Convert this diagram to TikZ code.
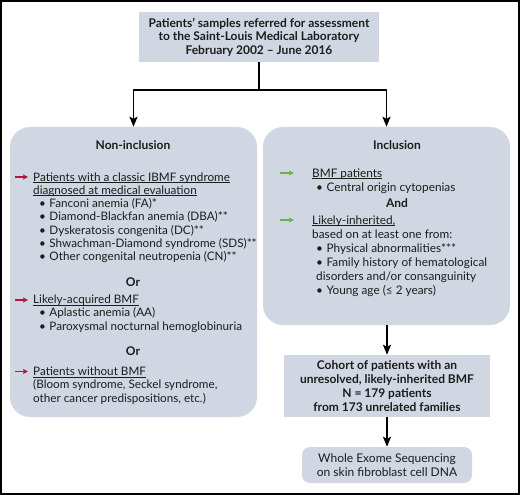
\documentclass[tikz,border=0pt]{standalone}
\usepackage{fontspec}
\setmainfont{Lato}
\usetikzlibrary{arrows.meta}
\definecolor{boxfill}{RGB}{208,215,226}
\definecolor{redarr}{RGB}{178,24,60}
\definecolor{greenarr}{RGB}{112,176,78}
\definecolor{txt}{RGB}{28,28,28}
\newcommand\myul[1]{\setbox0\hbox{#1}\rlap{\rule[-1.7pt]{\wd0}{0.6pt}}\box0}
\newcommand\lbul{\hspace*{6pt}\textbullet\hspace{3.5pt}}
\newcommand\rbul{\hspace*{4pt}\textbullet\hspace{3.5pt}}
\begin{document}
\begin{tikzpicture}[x=1pt,y=-1pt,
  every node/.style={text=txt},
  sqbox/.style={fill=boxfill, draw=none, inner sep=0pt, align=center},
  rbox/.style={fill=boxfill, draw=none, inner sep=0pt, rounded corners=20pt},
  headtxt/.style={font=\fontsize{12}{14}\selectfont\bfseries, inner sep=0pt},
  leftlist/.style={anchor=base west, align=left, inner sep=0pt, font=\fontsize{11.7}{13.3}\selectfont},
  rightlist/.style={anchor=base west, align=left, inner sep=0pt, font=\fontsize{11.8}{14}\selectfont},
  flow/.style={line width=1.8pt, -{Stealth[length=10pt,width=8pt,inset=2pt]}},
  flowline/.style={line width=1.8pt},
  redmark/.style={draw=redarr, line width=1.3pt, -{Stealth[length=5pt,width=5pt,inset=1pt]}},
  greenmark/.style={draw=greenarr, line width=1.3pt, -{Stealth[length=5pt,width=5pt,inset=1pt]}}]
\useasboundingbox (0,0) rectangle (520,495);
\fill[white] (0,0) rectangle (520,495);
\draw[line width=2.2pt] (1.1,1.1) rectangle (518.9,493.9);

% boxes
\node[sqbox, font=\fontsize{12}{13.5}\selectfont\bfseries, minimum width=240pt, minimum height=50pt] (top) at (259,37)
  {Patients’ samples referred for assessment\\to the Saint-Louis Medical Laboratory\\February 2002 – June 2016};
\node[rbox, minimum width=247pt, minimum height=290pt] (noninc) at (133.5,272) {};
\node[rbox, minimum width=247pt, minimum height=198pt] (inc) at (386.5,226) {};
\node[sqbox, font=\fontsize{12}{14}\selectfont\bfseries, minimum width=206pt, minimum height=62pt] (cohort) at (387,386)
  {Cohort of patients with an\\unresolved, likely-inherited BMF\\N = 179 patients\\from 173 unrelated families};
\node[sqbox, rounded corners=8pt, minimum width=170pt, minimum height=36pt,
  font=\fontsize{12}{14.5}\selectfont] (wes) at (387,465)
  {Whole Exome Sequencing\\on skin fibroblast cell DNA};

% connectors
\coordinate (split) at (259,90);
\draw[flowline] (top.south) -- (split);
\draw[flow] (split) -| (noninc.north);
\draw[flow] (split) -| (inc.north);
\draw[flow] (inc.south -| cohort.north) -- (cohort.north);
\draw[flow] (cohort.south) -- (wes.north);

% non-inclusion text
\node[headtxt] (nih) at (133,145) {Non-inclusion};
\node[leftlist] (ni1) at (33,260.8) {\myul{Patients with a classic IBMF syndrome}\\
  \myul{diagnosed at medical evaluation}\\
  \lbul Fanconi anemia (FA)*\\
  \lbul Diamond-Blackfan anemia (DBA)**\\
  \lbul Dyskeratosis congenita (DC)**\\
  \lbul Shwachman-Diamond syndrome (SDS)**\\
  \lbul Other congenital neutropenia (CN)**};
\node[headtxt] (or1) at (133,282) {Or};
\node[leftlist] (ni2) at (33,330) {\myul{Likely-acquired BMF}\\
  \lbul Aplastic anemia (AA)\\
  \lbul Paroxysmal nocturnal hemoglobinuria};
\node[headtxt] (or2) at (133,351) {Or};
\node[leftlist] (ni3) at (33,402) {\myul{Patients without BMF}\\
  (Bloom syndrome, Seckel syndrome,\\
  other cancer predispositions, etc.)};
\coordinate (ra1s) at (15,177); \coordinate (ra1e) at (28,177);
\coordinate (ra2s) at (15,300); \coordinate (ra2e) at (28,300);
\coordinate (ra3s) at (15,371.5); \coordinate (ra3e) at (28,371.5);
\draw[redmark] (ra1s) -- (ra1e);
\draw[redmark] (ra2s) -- (ra2e);
\draw[redmark] (ra3s) -- (ra3e);

% inclusion text
\node[headtxt] (ih) at (397,145) {Inclusion};
\node[rightlist] (i1) at (312,191.2) {\myul{BMF patients}\\
  \rbul Central origin cytopenias};
\node[headtxt] (and) at (397,203) {And};
\node[rightlist] (i2) at (312,294.2) {\myul{Likely-inherited,}\\
  based on at least one from:\\
  \rbul Physical abnormalities***\\
  \rbul Family history of hematological\\
  \hspace*{4pt}disorders and/or consanguinity\\
  \rbul Young age (≤ 2 years)};
\coordinate (ga1s) at (280,173); \coordinate (ga1e) at (294,173);
\coordinate (ga2s) at (280,220); \coordinate (ga2e) at (294,220);
\draw[greenmark] (ga1s) -- (ga1e);
\draw[greenmark] (ga2s) -- (ga2e);
\end{tikzpicture}
\end{document}
